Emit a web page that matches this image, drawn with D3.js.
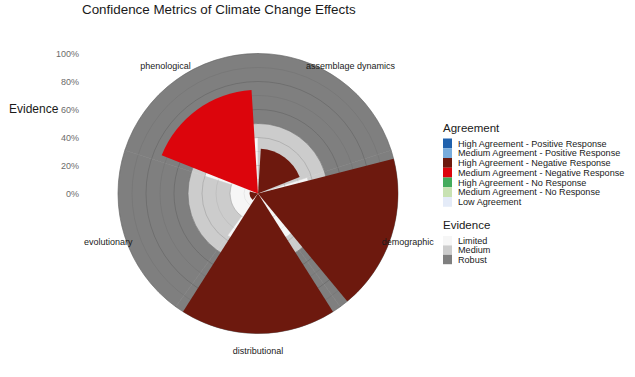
<!DOCTYPE html>
<html>
<head>
<meta charset="utf-8">
<script src="https://cdn.jsdelivr.net/npm/d3@7"></script>
<style>
  body { margin: 0; background: #fff; }
  svg { display: block; font-family: "Liberation Sans", Arial, sans-serif; }
</style>
</head>
<body>
<script>
// categories, in the order ggplot puts them round the circle (alphabetical, clockwise from top)
var categories = ["assemblage dynamics", "demographic", "distributional", "evolutionary", "phenological"];

// evidence background, percent of each category, stacked from the centre out
var evidence_levels = ["Limited", "Medium", "Robust"];
var evidence_limited = [4, 37, 37, 20, 40];
var evidence_medium  = [46, 13, 13, 30, 10];
var evidence_robust  = [50, 50, 50, 50, 50];

// agreement bars: one per category
var agreement_levels = ["High Agreement - Positive Response", "Medium Agreement - Positive Response",
                        "High Agreement - Negative Response", "Medium Agreement - Negative Response",
                        "High Agreement - No Response", "Medium Agreement - No Response", "Low Agreement"];
var agreement_class = ["High Agreement - Negative Response", "High Agreement - Negative Response",
                       "High Agreement - Negative Response", "High Agreement - Negative Response",
                       "Medium Agreement - Negative Response"];
var agreement_value = [32, 100, 100, 6, 74];

var radial_ticks = [0, 20, 40, 60, 80, 100];

var w = 635, h = 377;
var cx = 258, cy = 193.5, R = 140;

var agreement_colors = ["#1f61ad", "#78acdc", "#6d190e", "#dc050c", "#44ab5c", "#c8e2b3", "#e4ebf8"];
var evidence_colors = ["#f6f6f6", "#cccccc", "#7f7f7f"];

var svg = d3.select("body").append("svg").attr("width", w).attr("height", h);

var x = d3.scaleBand().domain(categories).range([0, 2 * Math.PI]).padding(0);
var r = d3.scaleLinear().domain([0, 100]).range([0, R]);
var fillAgree = d3.scaleOrdinal().domain(agreement_levels).range(agreement_colors);
var fillEvid = d3.scaleOrdinal().domain(evidence_levels).range(evidence_colors);

// build stacked evidence segments
var evid_rows = categories.map(function(c, i){
  return {cat: c, Limited: evidence_limited[i], Medium: evidence_medium[i], Robust: evidence_robust[i]};
});
var stacked = d3.stack().keys(evidence_levels)(evid_rows);

var arc = d3.arc();
var g = svg.append("g").attr("transform", "translate(" + cx + "," + cy + ")");

stacked.forEach(function(layer){
  g.selectAll(null).data(layer).enter().append("path")
    .attr("d", function(d){
      return arc({innerRadius: r(d[0]), outerRadius: r(d[1]),
                  startAngle: x(d.data.cat), endAngle: x(d.data.cat) + x.bandwidth()});
    })
    .attr("fill", fillEvid(layer.key))
    .attr("stroke", fillEvid(layer.key))   // hides the hairline seams between wedges
    .attr("stroke-width", 0.6);
});

// concentric grid, shows through on the evidence fill
var grid_vals = d3.range(10, 101, 10);
g.selectAll(".grid").data(grid_vals).enter().append("circle")
  .attr("class", "grid")
  .attr("r", function(d){ return r(d); })
  .attr("fill", "none")
  .attr("stroke", "#000")
  .attr("stroke-opacity", function(d){ return d % 20 == 0 ? 0.22 : 0.1; })
  .attr("stroke-width", 0.6);

// agreement bars, width 0.9 of the band
var bw = x.bandwidth();
g.selectAll(".bar").data(categories).enter().append("path")
  .attr("class", "bar")
  .attr("d", function(c, i){
    return arc({innerRadius: 0, outerRadius: r(agreement_value[i]),
                startAngle: x(c) + 0.05 * bw, endAngle: x(c) + 0.95 * bw});
  })
  .attr("fill", function(c, i){ return fillAgree(agreement_class[i]); });

// category labels round the outside
g.selectAll(".lab").data(categories).enter().append("text")
  .attr("class", "lab")
  .attr("x", function(c){ return 1.125 * R * Math.sin(x(c) + bw / 2); })
  .attr("y", function(c){ return -1.125 * R * Math.cos(x(c) + bw / 2); })
  .attr("dy", "0.35em")
  .attr("text-anchor", "middle")
  .attr("font-size", 9)
  .attr("fill", "#1a1a1a")
  .text(function(c){ return c; });

// radial axis on the left
var ry = d3.scaleLinear().domain([0, 100]).range([cy, cy - R]);
var yAxis = svg.append("g").attr("transform", "translate(81,0)")
  .call(d3.axisLeft(ry).tickValues(radial_ticks).tickSize(0).tickPadding(2)
    .tickFormat(function(d){ return d + "%"; }));
yAxis.select(".domain").remove();
yAxis.selectAll("text").attr("font-size", 9).attr("fill", "#6b6b6b")
  .style("font-family", "'Liberation Sans', Arial, sans-serif");

svg.append("text").attr("x", 9).attr("y", 113).attr("font-size", 12).attr("fill", "#1a1a1a")
  .text("Evidence");

// title
svg.append("text").attr("x", 82).attr("y", 14).attr("font-size", 13.4).attr("fill", "#1a1a1a")
  .text("Confidence Metrics of Climate Change Effects");

// legends
var lx = 443;
svg.append("text").attr("x", lx).attr("y", 132).attr("font-size", 11.5).attr("fill", "#1a1a1a").text("Agreement");
var step = 9.75;
var la = svg.append("g").selectAll("g").data(agreement_levels).enter().append("g")
  .attr("transform", function(d, i){ return "translate(" + lx + "," + (138.5 + i * step) + ")"; });
la.append("rect").attr("width", 9).attr("height", step).attr("fill", function(d){ return fillAgree(d); });
la.append("text").attr("x", 15).attr("y", step / 2).attr("dy", "0.35em")
  .attr("font-size", 9.1).attr("fill", "#1a1a1a").text(function(d){ return d; });

svg.append("text").attr("x", lx).attr("y", 229).attr("font-size", 11.5).attr("fill", "#1a1a1a").text("Evidence");
var step2 = 9.4;
var le = svg.append("g").selectAll("g").data(evidence_levels).enter().append("g")
  .attr("transform", function(d, i){ return "translate(" + lx + "," + (236 + i * step2) + ")"; });
le.append("rect").attr("width", 9).attr("height", step2).attr("fill", function(d){ return fillEvid(d); });
le.append("text").attr("x", 15).attr("y", step2 / 2).attr("dy", "0.35em")
  .attr("font-size", 9.1).attr("fill", "#1a1a1a").text(function(d){ return d; });
</script>
</body>
</html>
